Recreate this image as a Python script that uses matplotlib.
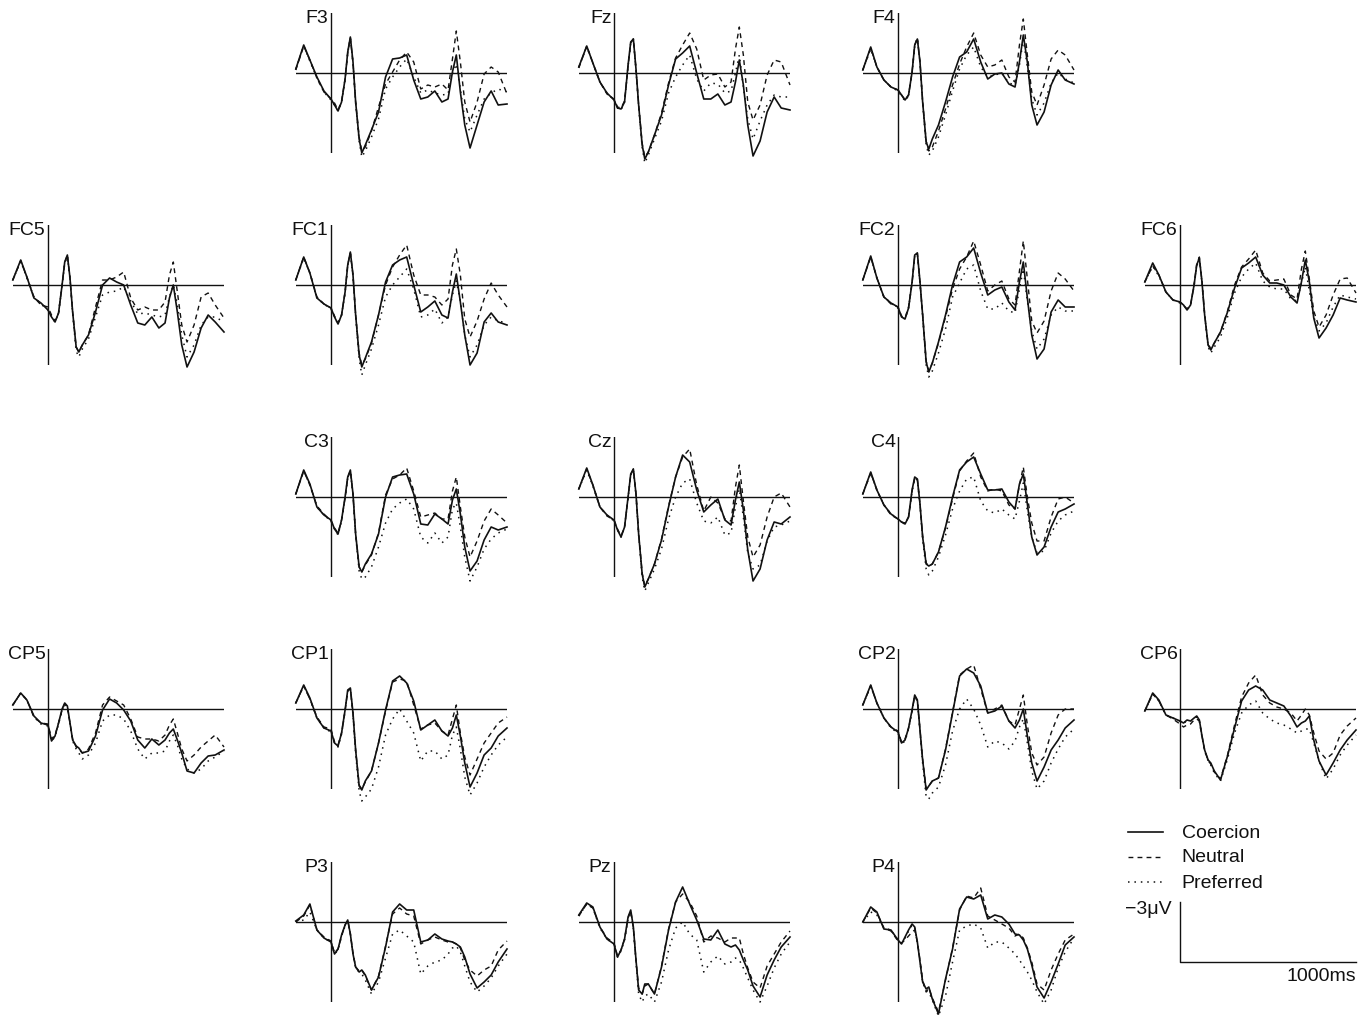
import matplotlib
matplotlib.use('Agg')
import matplotlib.pyplot as plt

plt.rcParams['font.family'] = ['Liberation Sans', 'DejaVu Sans']

# sample times in ms (epoch -200 .. 1000)
times = [-200, -155, -120, -80, -40, 0, 20, 40, 60, 80, 95, 110, 125, 140, 160, 175,
         195, 230, 270, 310, 350, 390, 430, 470, 510, 550, 590, 630, 665, 690, 712,
         735, 760, 790, 830, 870, 910, 950, 1000]

conditions = ['Coercion', 'Neutral', 'Preferred']

# grand averages in microvolts (negative plotted up)
F3_coercion = [-0.2, -1.4, -0.65, 0.2, 0.9, 1.3, 1.6, 1.9, 1.45, 0.3, -1.05, -1.8, -0.55, 1.45, 3.3, 4.0, 3.6, 2.85, 1.95, 0.2, -0.7, -0.75, -0.9, 0.35, 1.3, 1.2, 0.9, 1.45, 1.3, -0.05, -0.9, 0.95, 2.6, 3.75, 2.6, 1.45, 0.9, 1.6, 1.55]
F3_neutral = [-0.15, -1.35, -0.65, 0.25, 0.95, 1.3, 1.5, 1.85, 1.4, 0.3, -1.0, -1.75, -0.5, 1.45, 3.2, 3.9, 3.7, 2.9, 1.7, 0.55, -0.05, -0.65, -1.05, -0.55, 0.8, 0.6, 0.7, 0.55, 0.85, -0.7, -2.1, -0.55, 1.45, 2.45, 1.45, 0.05, -0.3, -0.05, 1.05]
F3_preferred = [-0.2, -1.35, -0.6, 0.25, 0.95, 1.35, 1.6, 1.9, 1.45, 0.35, -1.0, -1.75, -0.5, 1.5, 3.4, 4.2, 3.9, 3.2, 2.3, 0.8, 0.2, -0.3, -0.7, 0.2, 1.0, 0.85, 1.0, 1.1, 1.05, 0.05, -0.45, 0.8, 2.3, 2.95, 2.1, 1.3, 1.0, 0.8, 0.95]

Fz_coercion = [-0.3, -1.35, -0.5, 0.45, 1.0, 1.35, 1.75, 1.8, 1.45, -0.4, -1.55, -1.7, -0.2, 1.6, 3.6, 4.3, 3.95, 3.1, 2.1, 0.6, -0.7, -1.0, -1.35, 0.0, 1.3, 1.3, 1.05, 1.6, 1.45, 0.45, -0.65, 0.6, 2.6, 4.15, 3.4, 1.95, 1.2, 1.75, 1.85]
Fz_neutral = [-0.25, -1.35, -0.5, 0.45, 1.05, 1.3, 1.7, 1.75, 1.4, -0.35, -1.5, -1.7, -0.2, 1.6, 3.5, 4.2, 3.95, 3.1, 2.0, 0.5, -0.75, -1.4, -2.0, -1.2, 0.35, 0.1, 0.05, 0.7, 0.45, -1.2, -2.3, -0.9, 1.45, 2.35, 1.6, 0.1, -0.65, -0.55, 0.6]
Fz_preferred = [-0.3, -1.3, -0.5, 0.45, 1.0, 1.35, 1.75, 1.85, 1.45, -0.35, -1.5, -1.7, -0.15, 1.65, 3.7, 4.5, 4.1, 3.3, 2.4, 1.0, 0.2, -0.4, -0.9, 0.3, 0.9, 0.5, 0.55, 1.0, 0.9, 0.0, -0.9, 0.7, 2.3, 3.3, 2.4, 1.6, 1.1, 1.2, 1.2]

F4_coercion = [-0.15, -1.3, -0.3, 0.35, 0.7, 0.85, 1.1, 1.35, 1.1, -0.05, -1.4, -1.7, -0.55, 1.45, 3.45, 3.8, 3.3, 2.6, 1.45, 0.2, -0.8, -1.05, -1.7, -0.55, 0.3, 0.05, 0.0, 0.55, 0.7, -0.55, -1.9, -0.55, 1.6, 2.6, 1.95, 0.6, -0.15, 0.35, 0.55]
F4_neutral = [-0.15, -1.25, -0.3, 0.35, 0.7, 0.85, 1.1, 1.35, 1.1, -0.05, -1.4, -1.75, -0.55, 1.4, 3.4, 3.9, 3.7, 2.9, 1.8, 0.6, -0.45, -1.3, -2.0, -0.9, -0.3, -0.4, -0.65, 0.2, 0.45, -1.4, -2.7, -0.9, 0.95, 1.6, 0.6, -0.7, -1.15, -0.9, -0.15]
F4_preferred = [-0.15, -1.2, -0.3, 0.35, 0.7, 0.9, 1.15, 1.4, 1.15, 0.0, -1.35, -1.75, -0.5, 1.5, 3.6, 4.1, 3.9, 3.2, 2.1, 0.9, -0.2, -0.9, -1.3, -0.3, 0.2, 0.1, 0.0, 0.5, 0.6, -0.4, -1.7, -0.3, 1.3, 2.1, 1.5, 0.5, 0.0, 0.3, 0.5]

FC5_coercion = [-0.25, -1.25, -0.4, 0.65, 0.9, 1.25, 1.6, 1.85, 1.4, 0.0, -1.15, -1.5, -0.35, 1.35, 3.1, 3.35, 3.0, 2.5, 1.35, 0.0, -0.35, -0.15, 0.0, 1.0, 1.9, 2.0, 1.6, 2.15, 1.9, 0.65, 0.0, 1.35, 3.0, 4.1, 3.35, 2.15, 1.5, 1.85, 2.35]
FC5_neutral = [-0.25, -1.2, -0.4, 0.6, 1.0, 1.1, 1.5, 1.8, 1.4, 0.0, -1.1, -1.5, -0.35, 1.35, 3.1, 3.35, 3.0, 2.5, 1.1, -0.25, -0.25, -0.4, -0.65, 0.65, 1.25, 1.1, 1.25, 1.25, 0.85, -0.5, -1.15, 0.35, 2.0, 2.85, 2.0, 0.6, 0.4, 1.0, 1.65]
FC5_preferred = [-0.25, -1.2, -0.35, 0.6, 0.95, 1.25, 1.6, 1.85, 1.4, 0.05, -1.1, -1.45, -0.3, 1.4, 3.3, 3.6, 3.2, 2.7, 1.6, 0.5, 0.35, 0.3, 0.1, 0.8, 1.45, 1.4, 1.5, 1.6, 1.5, 0.6, 0.0, 1.0, 2.5, 3.6, 3.0, 2.0, 1.6, 1.6, 1.85]

FC1_coercion = [-0.25, -1.4, -0.6, 0.65, 0.95, 1.15, 1.6, 1.95, 1.5, 0.35, -1.0, -1.65, -0.5, 1.5, 3.5, 4.1, 3.65, 2.85, 1.5, -0.15, -1.0, -1.25, -1.4, 0.0, 1.35, 1.1, 0.8, 1.5, 1.65, 0.35, -0.55, 0.85, 2.5, 4.0, 3.4, 1.85, 1.4, 1.85, 2.0]
FC1_neutral = [-0.25, -1.4, -0.6, 0.6, 0.95, 1.15, 1.55, 1.9, 1.5, 0.35, -1.0, -1.6, -0.5, 1.5, 3.4, 4.0, 3.7, 2.9, 1.5, 0.0, -0.9, -1.5, -2.0, -0.5, 0.5, 0.5, 0.6, 1.0, 0.7, -1.0, -1.8, -0.5, 1.7, 2.6, 1.8, 0.7, -0.1, 0.5, 1.1]
FC1_preferred = [-0.25, -1.35, -0.6, 0.65, 0.95, 1.2, 1.6, 1.95, 1.5, 0.4, -0.95, -1.6, -0.45, 1.55, 3.7, 4.5, 4.0, 3.2, 2.0, 0.6, 0.0, -0.4, -0.8, 0.2, 1.6, 1.5, 1.2, 1.9, 1.6, 0.5, -0.2, 0.8, 2.5, 3.6, 3.0, 2.0, 1.6, 1.8, 1.9]

FC2_coercion = [-0.25, -1.45, -0.35, 0.6, 0.9, 1.1, 1.6, 1.7, 1.15, -0.15, -1.5, -1.6, -0.15, 1.5, 3.85, 4.35, 3.9, 2.85, 1.5, 0.0, -1.15, -1.4, -1.85, -0.6, 0.5, 0.25, 0.1, 0.85, 1.25, -0.15, -1.15, 0.65, 2.5, 3.7, 3.2, 1.35, 0.75, 1.1, 1.1]
FC2_neutral = [-0.25, -1.4, -0.35, 0.6, 0.95, 1.1, 1.55, 1.65, 1.1, -0.1, -1.45, -1.6, -0.1, 1.45, 3.8, 4.3, 3.9, 2.9, 1.6, 0.2, -0.8, -1.4, -2.2, -1.0, 0.3, 0.0, -0.2, 0.7, 1.0, -0.7, -2.2, -0.3, 1.8, 2.4, 1.8, 0.3, -0.6, -0.3, 0.3]
FC2_preferred = [-0.25, -1.4, -0.35, 0.6, 0.9, 1.15, 1.6, 1.7, 1.15, -0.1, -1.45, -1.55, -0.1, 1.55, 4.0, 4.6, 4.3, 3.4, 2.2, 0.6, -0.1, -0.8, -1.0, 0.3, 1.2, 1.2, 0.9, 1.3, 1.4, 0.2, -0.8, 0.8, 2.3, 3.2, 2.7, 1.5, 1.1, 1.3, 1.3]

FC6_coercion = [-0.15, -1.1, -0.5, 0.35, 0.75, 0.85, 1.0, 1.25, 1.0, 0.0, -1.0, -1.35, -0.15, 1.5, 3.0, 3.25, 2.9, 2.35, 1.35, 0.15, -0.85, -1.1, -1.4, -0.5, -0.1, -0.1, 0.0, 0.6, 0.9, -0.15, -1.25, -0.15, 1.65, 2.65, 2.15, 1.5, 0.65, 0.75, 0.85]
FC6_neutral = [-0.15, -0.95, -0.5, 0.35, 0.75, 0.85, 1.0, 1.2, 1.0, 0.0, -1.05, -1.4, -0.15, 1.45, 3.0, 3.15, 2.9, 2.35, 1.3, 0.0, -0.9, -1.3, -1.75, -0.6, -0.2, -0.25, -0.3, 0.5, 0.7, -0.8, -1.7, -0.3, 1.3, 2.1, 1.5, 0.5, -0.3, -0.35, 0.4]
FC6_preferred = [-0.15, -0.95, -0.45, 0.35, 0.75, 0.9, 1.0, 1.25, 1.0, 0.05, -0.95, -1.3, -0.1, 1.5, 3.1, 3.4, 3.1, 2.6, 1.6, 0.4, -0.4, -0.8, -1.1, -0.2, 0.1, 0.2, 0.2, 0.7, 0.8, -0.1, -0.9, 0.3, 1.6, 2.3, 1.9, 1.1, 0.5, 0.6, 0.7]

C3_coercion = [-0.15, -1.35, -0.65, 0.5, 0.9, 1.15, 1.6, 1.85, 1.15, 0.0, -1.0, -1.35, -0.15, 1.85, 3.5, 3.75, 3.35, 2.85, 1.85, 0.0, -1.0, -1.1, -1.15, -0.15, 1.35, 1.4, 0.85, 1.1, 1.35, 0.15, -0.4, 0.85, 2.5, 3.7, 3.2, 2.15, 1.5, 1.65, 1.5]
C3_neutral = [-0.15, -1.3, -0.6, 0.45, 0.85, 1.2, 1.55, 1.8, 1.15, 0.05, -0.95, -1.3, -0.1, 1.85, 3.5, 3.75, 3.4, 2.9, 1.8, -0.1, -0.9, -1.1, -1.45, -0.3, 1.0, 0.9, 0.8, 1.1, 1.1, -0.3, -1.0, 0.5, 2.0, 3.0, 2.2, 1.2, 0.6, 0.9, 1.3]
C3_preferred = [-0.15, -1.3, -0.6, 0.5, 0.9, 1.2, 1.6, 1.9, 1.2, 0.05, -0.95, -1.3, -0.1, 1.9, 3.7, 4.1, 4.0, 3.5, 2.5, 1.3, 0.6, 0.3, 0.1, 0.6, 2.0, 2.3, 1.8, 2.3, 2.0, 0.6, 0.3, 1.5, 3.0, 4.2, 3.5, 2.6, 2.1, 1.8, 1.6]

Cz_coercion = [-0.4, -1.45, -0.6, 0.5, 0.9, 1.15, 1.65, 2.0, 1.5, 0.0, -1.15, -1.4, -0.15, 1.85, 3.85, 4.5, 4.1, 3.35, 2.15, 0.5, -1.0, -2.1, -1.75, -0.35, 0.75, 0.4, 0.1, 1.15, 1.4, 0.15, -0.75, 0.65, 2.65, 4.2, 3.6, 2.15, 1.25, 1.35, 1.0]
Cz_neutral = [-0.4, -1.4, -0.6, 0.5, 0.95, 1.15, 1.6, 1.95, 1.5, 0.05, -1.1, -1.4, -0.15, 1.8, 3.8, 4.45, 4.1, 3.35, 2.1, 0.45, -1.0, -2.0, -2.4, -0.6, 0.7, 0.0, 0.3, 1.1, 1.2, -0.5, -1.6, 0.2, 2.0, 3.0, 2.4, 1.0, 0.0, -0.2, 0.5]
Cz_preferred = [-0.4, -1.35, -0.55, 0.5, 0.9, 1.2, 1.65, 2.0, 1.5, 0.05, -1.1, -1.35, -0.1, 1.9, 4.0, 4.7, 4.3, 3.6, 2.6, 1.1, 0.0, -0.7, -0.9, 0.3, 1.2, 1.3, 1.0, 1.9, 1.8, 0.5, -0.4, 1.0, 2.8, 3.6, 3.4, 2.2, 1.5, 1.4, 1.2]

C4_coercion = [-0.15, -1.25, -0.35, 0.4, 0.85, 1.1, 1.25, 1.35, 1.0, -0.35, -1.0, -0.9, 0.35, 2.0, 3.35, 3.45, 3.35, 2.75, 1.5, 0.0, -1.35, -1.75, -2.0, -1.15, -0.35, -0.35, -0.4, 0.25, 0.6, -0.65, -1.15, 0.35, 2.0, 2.9, 2.5, 1.5, 0.75, 0.6, 0.35]
C4_neutral = [-0.15, -1.2, -0.35, 0.4, 0.9, 1.1, 1.25, 1.3, 1.0, -0.3, -0.95, -0.9, 0.35, 1.95, 3.3, 3.45, 3.35, 2.75, 1.55, 0.1, -1.3, -1.8, -2.2, -1.0, -0.3, -0.4, -0.3, 0.4, 0.6, -0.6, -1.5, 0.0, 1.3, 2.2, 2.2, 1.0, 0.1, 0.0, 0.3]
C4_preferred = [-0.15, -1.2, -0.35, 0.4, 0.85, 1.1, 1.25, 1.35, 1.0, -0.3, -0.95, -0.85, 0.4, 2.1, 3.6, 3.9, 3.7, 3.0, 1.9, 0.6, -0.3, -0.9, -1.0, 0.2, 0.7, 0.8, 0.6, 0.9, 1.1, 0.2, -0.7, 0.7, 2.0, 2.8, 2.7, 1.8, 1.2, 0.9, 0.7]

CP5_coercion = [-0.2, -0.8, -0.45, 0.35, 0.7, 0.8, 1.6, 1.35, 0.7, 0.0, -0.3, -0.15, 0.7, 1.55, 1.85, 1.95, 2.2, 2.1, 1.35, 0.05, -0.5, -0.3, 0.05, 0.6, 1.55, 1.95, 1.5, 1.8, 1.55, 1.2, 1.0, 1.55, 2.2, 3.1, 3.2, 2.7, 2.35, 2.3, 2.05]
CP5_neutral = [-0.2, -0.8, -0.45, 0.4, 0.7, 0.75, 1.5, 1.3, 0.7, 0.05, -0.25, -0.1, 0.7, 1.5, 1.9, 2.0, 2.2, 2.0, 1.2, -0.2, -0.6, -0.4, -0.2, 0.5, 1.4, 1.5, 1.5, 1.6, 1.3, 0.8, 0.5, 1.2, 2.0, 2.6, 2.3, 1.9, 1.6, 1.3, 1.9]
CP5_preferred = [-0.2, -0.8, -0.45, 0.4, 0.75, 0.85, 1.6, 1.4, 0.75, 0.05, -0.25, -0.1, 0.75, 1.6, 2.0, 2.2, 2.5, 2.3, 1.7, 0.6, 0.3, 0.3, 0.5, 1.1, 2.0, 2.5, 2.2, 2.2, 2.1, 1.6, 1.3, 1.8, 2.5, 3.0, 3.2, 3.0, 2.6, 2.4, 2.1]

CP1_coercion = [-0.3, -1.2, -0.55, 0.45, 0.95, 1.1, 1.7, 1.85, 1.2, 0.05, -0.95, -1.05, 0.2, 2.05, 3.85, 4.05, 3.6, 3.1, 1.7, 0.05, -1.4, -1.65, -1.3, -0.4, 1.05, 0.8, 0.55, 1.1, 1.35, 0.95, 0.3, 1.35, 2.7, 3.9, 3.2, 2.3, 1.95, 1.35, 0.95]
CP1_neutral = [-0.3, -1.15, -0.5, 0.4, 0.9, 1.0, 1.65, 1.8, 1.2, 0.1, -0.9, -1.0, 0.25, 2.05, 3.8, 4.0, 3.65, 3.1, 1.7, 0.1, -1.35, -1.5, -1.4, -0.2, 1.0, 0.8, 0.7, 1.1, 1.3, 0.5, -0.2, 1.2, 2.4, 3.3, 2.5, 1.7, 1.2, 0.7, 0.4]
CP1_preferred = [-0.3, -1.15, -0.5, 0.45, 0.95, 1.15, 1.7, 1.9, 1.25, 0.1, -0.9, -1.0, 0.3, 2.2, 4.1, 4.6, 4.4, 4.0, 2.9, 1.3, 0.5, 0.0, 0.6, 1.2, 2.6, 2.1, 2.1, 2.5, 2.3, 1.3, 0.9, 2.0, 3.4, 4.3, 3.7, 2.9, 2.3, 1.8, 1.4]

CP2_coercion = [-0.2, -1.2, -0.3, 0.45, 0.9, 1.15, 1.7, 1.55, 0.95, 0.05, -0.7, -0.45, 1.05, 2.55, 4.05, 3.85, 3.6, 3.45, 2.05, 0.2, -1.65, -2.0, -1.8, -1.15, 0.2, 0.1, -0.15, 0.6, 0.95, 0.55, 0.0, 1.35, 2.7, 3.6, 2.9, 2.05, 1.55, 0.95, 0.55]
CP2_neutral = [-0.2, -1.15, -0.3, 0.45, 0.9, 1.1, 1.65, 1.5, 0.95, 0.1, -0.65, -0.4, 1.05, 2.5, 4.0, 3.85, 3.6, 3.45, 2.0, 0.15, -1.7, -2.0, -2.2, -1.0, 0.2, 0.0, -0.2, 0.6, 0.8, 0.0, -0.7, 0.8, 2.2, 2.8, 2.4, 1.2, 0.3, 0.0, 0.0]
CP2_preferred = [-0.2, -1.15, -0.3, 0.45, 0.95, 1.2, 1.75, 1.6, 1.0, 0.1, -0.65, -0.4, 1.1, 2.7, 4.4, 4.5, 4.2, 3.9, 2.8, 1.1, 0.0, -0.5, 0.0, 0.8, 1.9, 1.6, 1.7, 2.0, 1.6, 0.9, 0.5, 1.7, 3.1, 4.0, 3.6, 2.7, 2.0, 1.4, 1.0]

CP6_coercion = [0.1, -0.8, -0.45, 0.3, 0.45, 0.6, 0.7, 0.55, 0.6, 0.45, 0.35, 0.55, 1.35, 2.05, 2.55, 2.7, 3.1, 3.55, 2.35, 0.95, -0.4, -0.95, -1.15, -0.95, -0.45, -0.3, -0.15, 0.35, 0.9, 0.7, 0.6, 0.35, 1.55, 2.6, 3.3, 2.7, 2.05, 1.55, 1.05]
CP6_neutral = [0.1, -0.75, -0.4, 0.3, 0.5, 0.75, 0.9, 0.8, 0.75, 0.55, 0.5, 0.6, 1.35, 2.05, 2.6, 2.75, 3.15, 3.5, 2.3, 0.8, -0.6, -1.3, -1.7, -0.7, -0.3, -0.1, 0.0, 0.2, 0.6, 0.3, 0.0, 0.3, 1.2, 2.1, 2.5, 2.2, 1.3, 0.85, 0.45]
CP6_preferred = [0.1, -0.75, -0.4, 0.3, 0.45, 0.6, 0.7, 0.6, 0.6, 0.5, 0.4, 0.6, 1.4, 2.1, 2.6, 2.8, 3.2, 3.6, 2.5, 1.2, 0.2, -0.2, -0.4, 0.2, 0.5, 0.7, 0.8, 1.0, 1.2, 1.1, 1.0, 1.0, 1.7, 2.6, 3.5, 3.0, 2.3, 1.8, 1.3]

P3_coercion = [-0.05, -0.35, -0.9, 0.4, 0.8, 1.0, 1.6, 1.35, 0.65, 0.15, -0.1, 0.6, 1.6, 2.25, 2.5, 2.4, 2.65, 3.4, 2.75, 1.25, -0.5, -0.9, -0.6, -0.6, 1.0, 0.9, 0.6, 0.85, 0.95, 1.0, 1.1, 1.25, 1.75, 2.6, 3.3, 3.0, 2.65, 2.0, 1.35]
P3_neutral = [0.0, -0.3, -0.85, 0.4, 0.75, 0.95, 1.55, 1.35, 0.7, 0.15, -0.1, 0.6, 1.55, 2.25, 2.45, 2.4, 2.7, 3.4, 2.7, 1.2, -0.4, -0.7, -0.4, -0.3, 1.1, 0.9, 0.75, 0.9, 1.0, 1.0, 1.1, 1.3, 1.9, 2.4, 2.7, 2.4, 2.2, 1.4, 0.95]
P3_preferred = [0.0, -0.1, -0.5, 0.4, 0.8, 1.0, 1.6, 1.4, 0.7, 0.2, 0.0, 0.6, 1.6, 2.3, 2.5, 2.6, 2.9, 3.6, 3.0, 1.8, 0.6, 0.4, 0.7, 1.0, 2.6, 2.2, 2.0, 1.9, 1.6, 1.3, 1.2, 1.5, 2.2, 3.0, 3.5, 3.2, 2.8, 2.2, 1.6]

Pz_coercion = [-0.35, -0.95, -0.75, 0.25, 0.85, 1.1, 1.75, 1.4, 0.85, -0.25, -0.6, 0.25, 1.9, 3.4, 3.6, 3.1, 3.1, 3.6, 2.25, 0.4, -1.0, -1.75, -0.9, -0.1, 0.85, 0.9, 0.4, 1.1, 1.25, 1.15, 1.4, 1.9, 2.4, 3.2, 3.75, 2.65, 1.9, 1.25, 0.75]
Pz_neutral = [-0.3, -0.9, -0.7, 0.25, 0.8, 1.05, 1.7, 1.4, 0.85, -0.2, -0.55, 0.3, 1.9, 3.3, 3.6, 3.2, 3.1, 3.6, 2.2, 0.35, -1.0, -1.4, -1.0, -0.3, 1.0, 0.7, 0.8, 1.0, 0.8, 0.8, 0.8, 1.6, 2.3, 3.0, 3.3, 2.2, 1.6, 1.0, 0.45]
Pz_preferred = [-0.3, -0.9, -0.7, 0.3, 0.85, 1.1, 1.75, 1.45, 0.9, -0.15, -0.5, 0.35, 2.0, 3.6, 4.0, 3.7, 3.6, 4.0, 3.0, 1.4, 0.3, 0.0, 0.6, 0.9, 2.5, 2.0, 1.7, 2.1, 2.0, 1.8, 1.9, 2.3, 2.8, 3.4, 4.0, 3.2, 2.3, 1.6, 1.0]

P4_coercion = [0.0, -0.75, -0.5, 0.35, 0.4, 0.9, 1.1, 0.75, 0.4, 0.1, 0.25, 1.0, 2.0, 3.0, 3.35, 3.25, 3.85, 4.6, 2.85, 1.35, -0.65, -1.25, -1.15, -1.35, -0.15, -0.35, -0.25, 0.1, 0.6, 0.65, 0.9, 1.35, 2.15, 3.25, 3.8, 3.0, 2.1, 1.15, 0.75]
P4_neutral = [0.0, -0.7, -0.45, 0.3, 0.45, 0.95, 1.05, 0.9, 0.7, 0.5, 0.4, 1.0, 1.9, 2.9, 3.5, 3.3, 3.8, 4.5, 2.9, 1.3, -0.6, -1.3, -1.2, -1.7, -0.3, -0.1, 0.1, 0.3, 0.7, 0.6, 0.8, 1.3, 2.0, 3.1, 3.4, 2.4, 1.6, 0.9, 0.6]
P4_preferred = [0.0, -0.5, -0.35, 0.3, 0.4, 0.9, 1.05, 0.8, 0.45, 0.15, 0.3, 1.0, 2.0, 3.0, 3.45, 3.5, 3.9, 4.7, 3.7, 2.0, 0.4, 0.2, 0.1, 0.3, 1.3, 1.0, 1.0, 1.3, 1.6, 1.9, 2.2, 2.5, 2.9, 3.5, 4.1, 3.4, 2.3, 1.5, 0.8]

channels = {
    'F3': (F3_coercion, F3_neutral, F3_preferred),
    'Fz': (Fz_coercion, Fz_neutral, Fz_preferred),
    'F4': (F4_coercion, F4_neutral, F4_preferred),
    'FC5': (FC5_coercion, FC5_neutral, FC5_preferred),
    'FC1': (FC1_coercion, FC1_neutral, FC1_preferred),
    'FC2': (FC2_coercion, FC2_neutral, FC2_preferred),
    'FC6': (FC6_coercion, FC6_neutral, FC6_preferred),
    'C3': (C3_coercion, C3_neutral, C3_preferred),
    'Cz': (Cz_coercion, Cz_neutral, Cz_preferred),
    'C4': (C4_coercion, C4_neutral, C4_preferred),
    'CP5': (CP5_coercion, CP5_neutral, CP5_preferred),
    'CP1': (CP1_coercion, CP1_neutral, CP1_preferred),
    'CP2': (CP2_coercion, CP2_neutral, CP2_preferred),
    'CP6': (CP6_coercion, CP6_neutral, CP6_preferred),
    'P3': (P3_coercion, P3_neutral, P3_preferred),
    'Pz': (Pz_coercion, Pz_neutral, Pz_preferred),
    'P4': (P4_coercion, P4_neutral, P4_preferred),
}

# electrode -> (row, column) in the montage grid
montage = {
    'F3': (0, 1), 'Fz': (0, 2), 'F4': (0, 3),
    'FC5': (1, 0), 'FC1': (1, 1), 'FC2': (1, 3), 'FC6': (1, 4),
    'C3': (2, 1), 'Cz': (2, 2), 'C4': (2, 3),
    'CP5': (3, 0), 'CP1': (3, 1), 'CP2': (3, 3), 'CP6': (3, 4),
    'P3': (4, 1), 'Pz': (4, 2), 'P4': (4, 3),
}

# pixel layout of the page
W, H = 1368, 1016
col_zero_px = [48, 331, 614, 898, 1180]   # x of the 0 ms line
row_zero_px = [73, 285, 497, 709, 922]    # y of the 0 uV line
px_ms = 0.176
px_uv = 20.0
t_min, t_max = -200, 1000
v_neg, v_pos = -3, 4

styles = [dict(ls='-', lw=1.2),
          dict(ls=(0, (3.5, 3.0)), lw=1.0),
          dict(ls=(0, (1.0, 3.2)), lw=1.1)]
ink = '#111111'

fig = plt.figure(figsize=(W / 100, H / 100), dpi=100)


def make_axes(x0, y0):
    left = x0 + t_min * px_ms
    top = y0 + v_neg * px_uv
    ax = fig.add_axes([left / W, 1 - (y0 + v_pos * px_uv) / H,
                       (t_max - t_min) * px_ms / W, (v_pos - v_neg) * px_uv / H])
    ax.set_xlim(t_min, t_max)
    ax.set_ylim(v_pos, v_neg)   # negative up
    ax.axis('off')
    return ax


for name, (r, c) in montage.items():
    ax = make_axes(col_zero_px[c], row_zero_px[r])
    ax.axhline(0, color=ink, lw=1.0)
    ax.axvline(0, color=ink, lw=1.0)
    for vals, st in zip(channels[name], styles):
        ax.plot(times, vals, color=ink, clip_on=False, **st)
    ax.text(-14, -2.48, name, ha='right', va='baseline', fontsize=14, color=ink)

# legend and calibration bar
ax = make_axes(1180, 962)
ax.plot([0, 0, 1000], [-3, 0, 0], color=ink, lw=1.0, clip_on=False)
ax.text(-45, -3.05, '\u22123\u03bcV', ha='right', va='top', fontsize=14, color=ink)
ax.text(1000, 0.3, '1000ms', ha='right', va='top', fontsize=14, color=ink)
for i, (lab, st) in enumerate(zip(conditions, styles)):
    y = -6.5 + 1.25 * i
    ax.plot([-295, -97], [y, y], color=ink, clip_on=False, **st)
    ax.text(10, y + 0.05, lab, ha='left', va='center', fontsize=14, color=ink)

fig.savefig('out.png', dpi=100)
